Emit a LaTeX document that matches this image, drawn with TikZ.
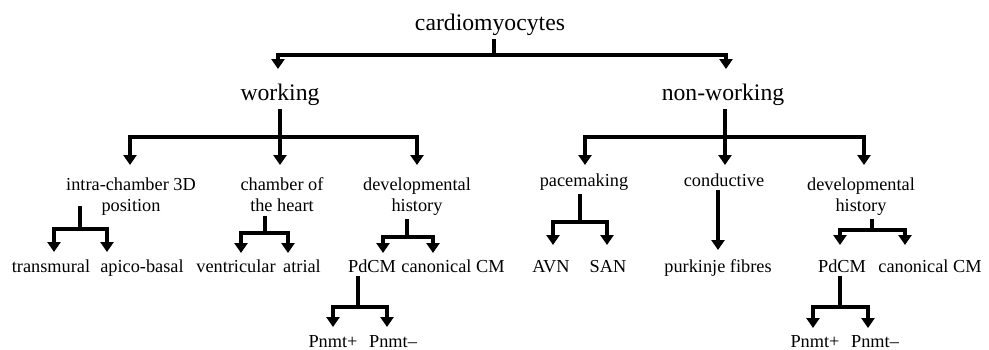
\documentclass[tikz,border=0pt]{standalone}
\usepackage{fontspec}
\setmainfont{Liberation Serif}
\usetikzlibrary{arrows.meta}

\tikzset{
  big/.style={font=\fontsize{11.85}{14}\selectfont, inner sep=0pt, outer sep=2pt, anchor=base},
  lbl/.style={font=\fontsize{9.15}{10.5}\selectfont, inner sep=0pt, outer sep=2pt, anchor=base},
  twoline/.style={lbl, align=center, anchor=north},
  stem/.style={line width=2pt},
  arr/.style={line width=2pt, -{Triangle[width=6.5pt,length=5pt]}},
}

\begin{document}
\begin{tikzpicture}[x=0.5pt,y=-0.5pt]

\useasboundingbox (0,0) rectangle (989,349);

% top
\node[big] (cardio) at (490,30) {cardiomyocytes};
\node[big] (work) at (280,100) {working};
\node[big] (nonwork) at (723,100) {non-working};

% second level
\node[twoline] (intra) at (131,173.5) {intra-chamber 3D\\position};
\node[twoline] (chamber) at (282,173.5) {chamber of\\the heart};
\node[twoline] (devw) at (417,173.5) {developmental\\history};
\node[lbl] (pace) at (584,186) {pacemaking};
\node[lbl] (cond) at (724,186) {conductive};
\node[twoline] (devn) at (861,173.5) {developmental\\history};

% third level
\node[lbl] (transm) at (51,272) {transmural};
\node[lbl] (apico) at (142,272) {apico-basal};
\node[lbl] (ventr) at (236,272) {ventricular};
\node[lbl] (atrial) at (302,272) {atrial};
\node[lbl] (pdcmw) at (372,272) {PdCM};
\node[lbl] (canw) at (453,272) {canonical CM};
\node[lbl] (avn) at (551,272) {AVN};
\node[lbl] (san) at (608,272) {SAN};
\node[lbl] (purk) at (718,272) {purkinje fibres};
\node[lbl] (pdcmn) at (842,272) {PdCM};
\node[lbl] (cann) at (930,272) {canonical CM};

% fourth level
\node[lbl] (pplusw) at (333,347) {Pnmt+};
\node[lbl] (pminw) at (393,347) {Pnmt--};
\node[lbl] (pplusn) at (815,347) {Pnmt+};
\node[lbl] (pminn) at (875,347) {Pnmt--};

% junctions
\coordinate (j-cardio) at (494,55);
\coordinate (j-work) at (280,137);
\coordinate (j-nonwork) at (725,137);
\coordinate (j-intra) at (80,229);
\coordinate (j-chamber) at (265,233);
\coordinate (j-devw) at (407,237);
\coordinate (j-pdcmw) at (358,307);
\coordinate (j-pace) at (580,222);
\coordinate (j-devn) at (872,230);
\coordinate (j-pdcmn) at (840,307);

% arrow tips
\coordinate (in-work) at (278,69);
\coordinate (in-nonwork) at (726,69);
\coordinate (in-intra) at (130,165);
\coordinate (in-chamber) at (280,165);
\coordinate (in-devw) at (417,165);
\coordinate (in-pace) at (585,165);
\coordinate (in-cond) at (725,165);
\coordinate (in-devn) at (864,165);
\coordinate (in-transm) at (54,252);
\coordinate (in-apico) at (107,252);
\coordinate (in-ventr) at (241,253);
\coordinate (in-atrial) at (288,253);
\coordinate (in-pdcmw) at (383,253);
\coordinate (in-canw) at (433,253);
\coordinate (in-avn) at (553,245);
\coordinate (in-san) at (607,245);
\coordinate (in-purk) at (718,250);
\coordinate (in-pdcmn) at (840,245);
\coordinate (in-cann) at (905,245);
\coordinate (in-pplusw) at (333,327);
\coordinate (in-pminw) at (387,327);
\coordinate (in-pplusn) at (813,328);
\coordinate (in-pminn) at (868,328);

% stems
\draw[stem] (j-cardio |- cardio.south) -- (j-cardio);
\draw[stem] (j-work |- work.south) -- (j-work);
\draw[stem] (j-nonwork |- nonwork.south) -- (j-nonwork);
\draw[stem] ([yshift=6.5pt]j-intra |- intra.south) -- (j-intra);
\draw[stem] (j-chamber |- chamber.south) -- (j-chamber);
\draw[stem] (j-devw |- devw.south) -- (j-devw);
\draw[stem] (j-pdcmw |- pdcmw.south) -- (j-pdcmw);
\draw[stem] (j-pace |- pace.south) -- (j-pace);
\draw[stem] (j-devn |- devn.south) -- (j-devn);
\draw[stem] (j-pdcmn |- pdcmn.south) -- (j-pdcmn);

% branches
\draw[arr] (j-cardio) -| (in-work);
\draw[arr] (j-cardio) -| (in-nonwork);
\draw[arr] (j-work) -| (in-intra);
\draw[arr] (j-work) -- (in-chamber);
\draw[arr] (j-work) -| (in-devw);
\draw[arr] (j-nonwork) -| (in-pace);
\draw[arr] (j-nonwork) -- (in-cond);
\draw[arr] (j-nonwork) -| (in-devn);
\draw[arr] (j-intra) -| (in-transm);
\draw[arr] (j-intra) -| (in-apico);
\draw[arr] (j-chamber) -| (in-ventr);
\draw[arr] (j-chamber) -| (in-atrial);
\draw[arr] (j-devw) -| (in-pdcmw);
\draw[arr] (j-devw) -| (in-canw);
\draw[arr] (j-pdcmw) -| (in-pplusw);
\draw[arr] (j-pdcmw) -| (in-pminw);
\draw[arr] (j-pace) -| (in-avn);
\draw[arr] (j-pace) -| (in-san);
\draw[arr] (in-purk |- cond.south) -- (in-purk);
\draw[arr] (j-devn) -| (in-pdcmn);
\draw[arr] (j-devn) -| (in-cann);
\draw[arr] (j-pdcmn) -| (in-pplusn);
\draw[arr] (j-pdcmn) -| (in-pminn);

\end{tikzpicture}
\end{document}
